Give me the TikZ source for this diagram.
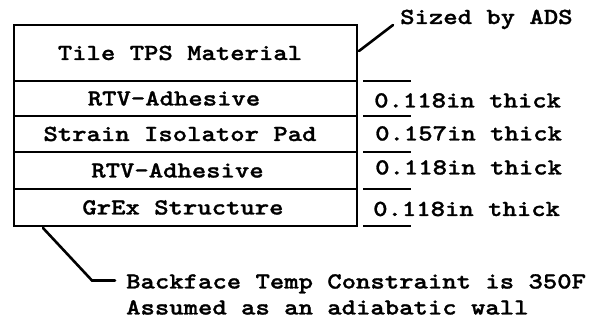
\documentclass[tikz,border=0pt]{standalone}
\usepackage{fontspec}
% Courier-like slab-serif typewriter face, widened to a Courier advance
\newfontfamily\typefont{lmmonolt10-bold}[Extension=.otf, FakeStretch=1.19, FakeBold=1.2]
\begin{document}
\begin{tikzpicture}[x=1pt, y=-1pt,
  layer/.style={draw=black, line width=2.8pt, minimum width=343pt, inner sep=0pt, outer sep=0pt},
  lbl/.style={font=\typefont\fontsize{23}{26}\selectfont, inner sep=0pt, text height=14pt, text depth=0pt},
  note/.style={font=\typefont\fontsize{23}{26}\selectfont, inner sep=0pt, anchor=base west},
  leader/.style={line width=2.6pt, line cap=round},
  tick/.style={line width=2.8pt}]
\useasboundingbox (0,0) rectangle (600,320);

% layer stack
\node[layer, minimum height=56pt] (tile) at (185.5,53) {};
\node[layer, minimum height=35pt] (rtvA) at (185.5,98.5) {};
\node[layer, minimum height=36pt] (sip)  at (185.5,134) {};
\node[layer, minimum height=37pt] (rtvB) at (185.5,170.5) {};
\node[layer, minimum height=37pt] (grex) at (185.5,207.5) {};

% layer names
\node[lbl] (tileT) at (180,53)    {Tile TPS Material};
\node[lbl] (rtvAT) at (174,98.5)  {RTV-Adhesive};
\node[lbl] (sipT)  at (180,134)   {Strain Isolator Pad};
\node[lbl] (rtvBT) at (177.5,170.5) {RTV-Adhesive};
\node[lbl] (grexT) at (183,207.5) {GrEx Structure};

% thickness ticks
\foreach \yy in {81,116,152,189,226}
  \draw[tick] (363,\yy) -- (411,\yy);

% thickness notes
\node[note] (thA) at (374,107.5) {0.118in thick};
\node[note] (thB) at (375,140.5) {0.157in thick};
\node[note] (thC) at (375,174.5) {0.118in thick};
\node[note] (thD) at (373,216)   {0.118in thick};

% sizing note with its leader
\node[note] (sized) at (400,24) {Sized by ADS};
\coordinate (sizedEnd) at (393,25);
\draw[leader] ([xshift=2pt,yshift=2pt]tile.east) -- (sizedEnd);

% backface note with its leader
\node[note] (back) at (126,288.5) {Backface Temp Constraint is 350F};
\node[note] (adia) at (126,314.5) {Assumed as an adiabatic wall};
\coordinate (backStart) at (43,228);
\coordinate (backKnee) at (92,280.5);
\coordinate (backEnd) at (115,280.5);
\draw[leader] (backStart) -- (backKnee) -- (backEnd);
\end{tikzpicture}
\end{document}
